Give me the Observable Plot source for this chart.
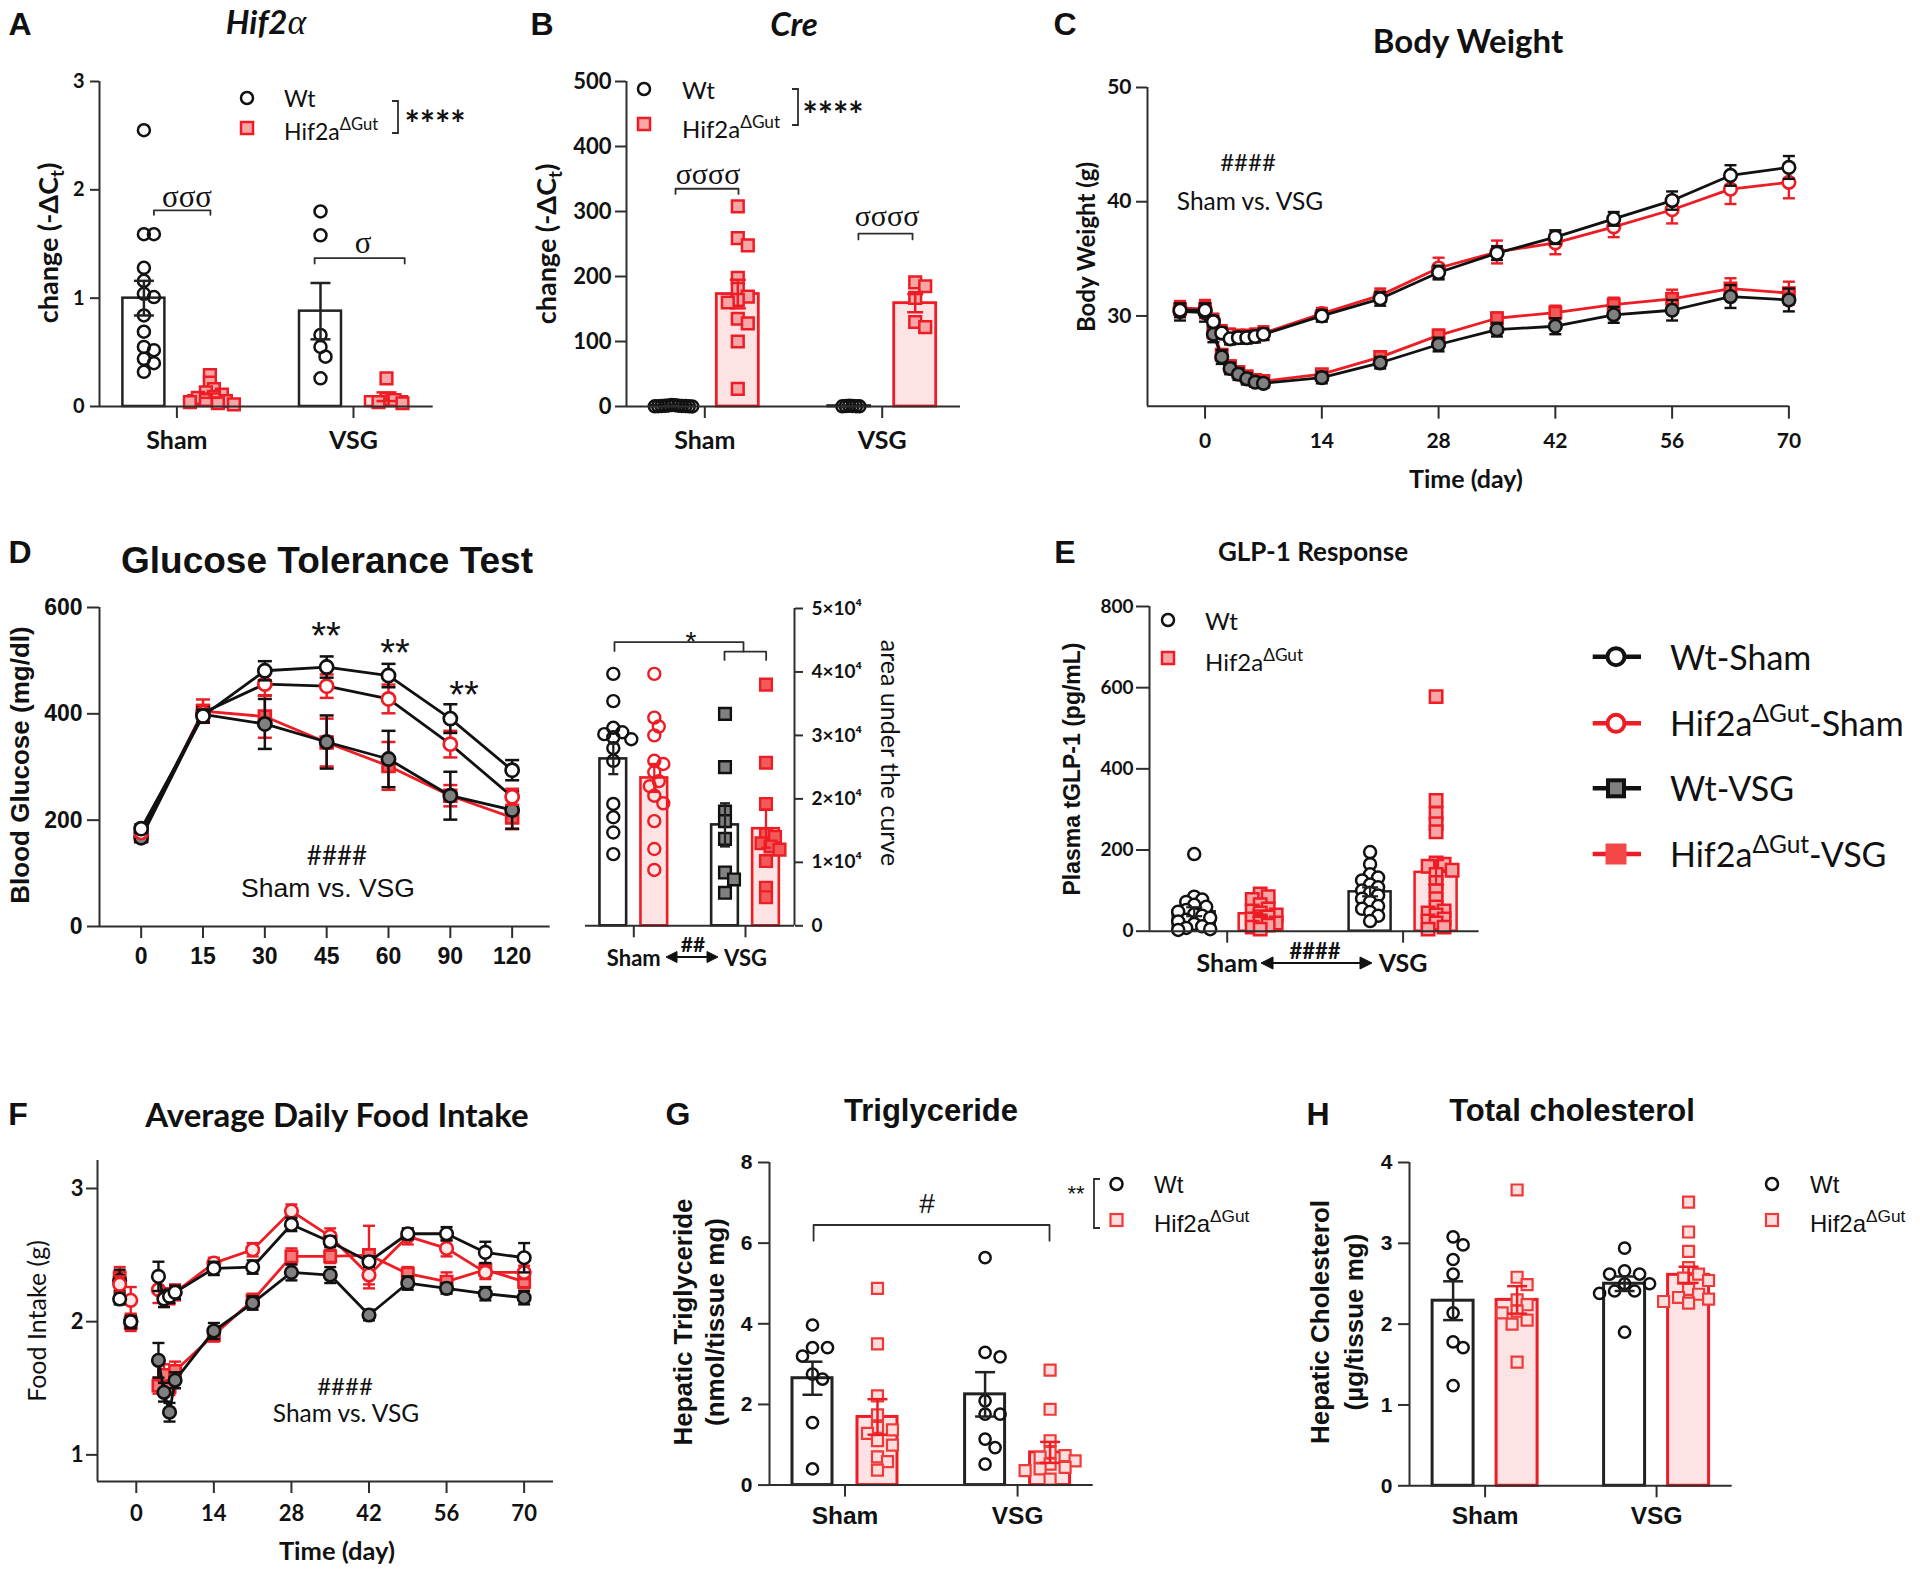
<!DOCTYPE html>
<html>
<head>
<meta charset="utf-8">
<title>Hif2a gut knockout – VSG figure</title>
<script src="https://cdn.jsdelivr.net/npm/d3@7"></script>
<script src="https://cdn.jsdelivr.net/npm/@observablehq/plot@0.6"></script>
<style>
  html, body { margin: 0; padding: 0; background: #fff; }
  #page { position: relative; width: 1920px; height: 1573px; overflow: hidden; background: #fff; color: #111; }
  .t { position: absolute; white-space: nowrap; line-height: 1; }
  .p { position: absolute; }
  .p svg { overflow: visible; }
  .t sup { font-size: 0.72em; vertical-align: 0; position: relative; top: -0.58em; }
  .t sub { font-size: 0.68em; vertical-align: 0; position: relative; top: 0.32em; }
</style>
</head>
<body>
<div id="page"></div>
<script>
// =================== DATA ===================
const GROUPS = ["Sham", "VSG"];
const LEGEND_SERIES = ["Wt-Sham", "Hif2a-Sham", "Wt-VSG", "Hif2a-VSG"];

// A – Hif2α mRNA (-ΔCt)
const A_wt_sham  = [2.55, 1.59, 1.59, 1.28, 1.16, 1.04, 1.01, 0.84, 0.69, 0.55, 0.52, 0.44, 0.40, 0.32];
const A_hif_sham = [0.29, 0.22, 0.16, 0.13, 0.11, 0.09, 0.08, 0.06, 0.05, 0.04, 0.03, 0.02];
const A_wt_vsg   = [1.80, 1.58, 0.66, 0.55, 0.46, 0.26];
const A_hif_vsg  = [0.26, 0.07, 0.06, 0.04, 0.03];
const A_mean_wt  = [1.00, 0.88];
const A_sem_wt   = [0.16, 0.26];
const A_mean_hif = [0.10, 0.09];
const A_sem_hif  = [0.02, 0.04];

// B – Cre mRNA (-ΔCt)
const B_wt_sham  = [2.5, 2.0, 1.6, 1.3, 1.1, 0.9, 0.8, 0.6, 0.5, 0.3, 0.2, 0.1];
const B_hif_sham = [308, 259, 248, 198, 181, 169, 164, 160, 135, 128, 100, 27];
const B_wt_vsg   = [1.2, 0.9, 0.7, 0.5, 0.3, 0.2];
const B_hif_vsg  = [191, 185, 167, 130, 122];
const B_mean_wt  = [1.0, 0.6];
const B_sem_wt   = [0.3, 0.2];
const B_mean_hif = [173, 159];
const B_sem_hif  = [22, 14];

// C – Body weight (g)
const C_days         = [-3, 0, 1, 2, 3, 4, 5, 6, 7, 14, 21, 28, 35, 42, 49, 56, 63, 70];
const C_wt_sham      = [30.5, 30.5, 29.5, 28.5, 28.0, 28.1, 28.1, 28.2, 28.4, 30.0, 31.5, 33.8, 35.5, 36.9, 38.5, 40.1, 42.3, 43.0];
const C_wt_sham_sem  = [0.6, 0.6, 0.5, 0.5, 0.5, 0.5, 0.5, 0.5, 0.5, 0.5, 0.6, 0.6, 0.6, 0.6, 0.6, 0.8, 0.9, 1.0];
const C_hif_sham     = [30.7, 30.6, 29.6, 28.6, 28.3, 28.2, 28.2, 28.3, 28.5, 30.2, 31.8, 34.2, 35.6, 36.4, 37.8, 39.3, 41.1, 41.7];
const C_hif_sham_sem = [0.6, 0.7, 0.6, 0.6, 0.6, 0.6, 0.6, 0.6, 0.6, 0.5, 0.6, 0.9, 1.0, 1.0, 0.9, 1.2, 1.3, 1.4];
const C_wt_vsg       = [30.4, 30.3, 28.4, 26.4, 25.4, 24.9, 24.5, 24.2, 24.1, 24.6, 25.9, 27.5, 28.8, 29.1, 30.1, 30.5, 31.7, 31.4];
const C_wt_vsg_sem   = [0.8, 0.8, 0.7, 0.6, 0.5, 0.5, 0.5, 0.4, 0.4, 0.5, 0.5, 0.6, 0.6, 0.7, 0.7, 0.9, 1.0, 1.0];
const C_hif_vsg      = [30.6, 30.6, 28.6, 26.6, 25.6, 25.1, 24.7, 24.4, 24.3, 24.9, 26.4, 28.3, 29.8, 30.3, 31.0, 31.5, 32.4, 32.0];
const C_hif_vsg_sem  = [0.7, 0.8, 0.6, 0.5, 0.5, 0.5, 0.5, 0.4, 0.4, 0.4, 0.5, 0.5, 0.5, 0.6, 0.6, 0.8, 0.9, 1.0];

// D – Glucose tolerance test (mg/dl)
const D_minutes      = [0, 15, 30, 45, 60, 90, 120];
const D_wt_sham      = [184, 396, 481, 488, 472, 391, 294];
const D_wt_sham_sem  = [8, 12, 18, 20, 22, 27, 19];
const D_hif_sham     = [177, 402, 456, 452, 428, 343, 244];
const D_hif_sham_sem = [8, 15, 22, 22, 27, 25, 15];
const D_wt_vsg       = [167, 399, 381, 347, 315, 246, 219];
const D_wt_vsg_sem   = [8, 15, 47, 50, 53, 45, 35];
const D_hif_vsg      = [170, 405, 395, 346, 302, 246, 205];
const D_hif_vsg_sem  = [8, 22, 40, 45, 45, 20, 22];
// D – area under the curve
const D_auc_wt_sham  = [39700, 35400, 31200, 30500, 30200, 29700, 29400, 28000, 26000, 19200, 17100, 14700, 11300];
const D_auc_hif_sham = [39700, 32800, 31400, 30000, 26000, 25500, 24200, 22800, 22000, 20500, 19300, 16500, 12100, 8800];
const D_auc_wt_vsg   = [33400, 25000, 18000, 16500, 13700, 8400, 7300, 5200];
const D_auc_hif_vsg  = [38000, 25700, 19200, 14400, 14000, 13000, 12500, 12000, 10200, 6000, 4500];
const D_auc_mean_wt  = [26300, 15900];
const D_auc_sem_wt   = [2400, 3400];
const D_auc_mean_hif = [23300, 15300];
const D_auc_sem_hif  = [2200, 3000];

// E – Plasma total GLP-1 (pg/mL)
const E_wt_sham  = [190, 85, 78, 72, 65, 60, 52, 48, 42, 38, 33, 28, 24, 18, 12, 8, 5, 3];
const E_hif_sham = [92, 85, 78, 65, 55, 50, 45, 40, 35, 30, 25, 20, 15, 10, 5];
const E_wt_vsg   = [195, 165, 140, 132, 125, 115, 108, 100, 95, 88, 80, 72, 62, 55, 47, 38, 25];
const E_hif_vsg  = [578, 322, 290, 265, 245, 168, 165, 160, 150, 140, 120, 100, 80, 60, 50, 45, 40, 30, 25, 20, 10, 5];
const E_mean_wt  = [48, 97];
const E_sem_wt   = [11, 11];
const E_mean_hif = [43, 145];
const E_sem_hif  = [8, 30];

// F – Average daily food intake (g)
const F_days         = [-3, -1, 4, 5, 6, 7, 14, 21, 28, 35, 42, 49, 56, 63, 70];
const F_wt_sham      = [2.17, 2.00, 2.34, 2.17, 2.19, 2.22, 2.40, 2.41, 2.73, 2.60, 2.45, 2.66, 2.66, 2.52, 2.48];
const F_wt_sham_sem  = [0.04, 0.04, 0.11, 0.06, 0.05, 0.05, 0.05, 0.05, 0.05, 0.04, 0.04, 0.04, 0.05, 0.08, 0.11];
const F_hif_sham     = [2.28, 2.16, 2.24, 2.18, 2.19, 2.22, 2.44, 2.54, 2.83, 2.64, 2.35, 2.64, 2.55, 2.37, 2.37];
const F_hif_sham_sem = [0.06, 0.10, 0.10, 0.07, 0.06, 0.06, 0.04, 0.05, 0.05, 0.06, 0.10, 0.06, 0.06, 0.05, 0.05];
const F_wt_vsg       = [2.31, 2.00, 1.71, 1.47, 1.32, 1.56, 1.93, 2.14, 2.37, 2.35, 2.05, 2.29, 2.25, 2.21, 2.18];
const F_wt_vsg_sem   = [0.08, 0.05, 0.13, 0.07, 0.07, 0.06, 0.06, 0.05, 0.06, 0.06, 0.04, 0.05, 0.04, 0.05, 0.05];
const F_hif_vsg      = [2.33, 1.99, 1.52, 1.60, 1.51, 1.63, 1.90, 2.16, 2.49, 2.49, 2.50, 2.36, 2.30, 2.39, 2.30];
const F_hif_vsg_sem  = [0.08, 0.06, 0.06, 0.08, 0.06, 0.07, 0.05, 0.05, 0.06, 0.05, 0.22, 0.05, 0.07, 0.05, 0.05];

// G – Hepatic triglyceride (nmol/tissue mg)
const G_wt_sham  = [3.97, 3.41, 3.41, 3.20, 2.75, 2.63, 1.55, 0.40];
const G_hif_sham = [4.88, 3.50, 2.21, 1.74, 1.43, 1.37, 1.28, 1.10, 0.99, 0.70, 0.58, 0.37];
const G_wt_vsg   = [5.64, 3.29, 3.18, 2.09, 1.76, 1.76, 1.14, 0.93, 0.52];
const G_hif_vsg  = [2.85, 1.88, 1.10, 0.81, 0.73, 0.69, 0.60, 0.52, 0.44, 0.40, 0.36, 0.15];
const G_mean_wt  = [2.65, 2.25];
const G_sem_wt   = [0.41, 0.55];
const G_mean_hif = [1.69, 0.81];
const G_sem_hif  = [0.44, 0.26];

// H – Hepatic cholesterol (µg/tissue mg)
const H_wt_sham  = [3.08, 2.98, 2.80, 2.62, 2.14, 1.78, 1.71, 1.24];
const H_hif_sham = [3.66, 2.58, 2.49, 2.30, 2.24, 2.16, 2.14, 2.05, 2.00, 1.53];
const H_wt_vsg   = [2.94, 2.66, 2.62, 2.62, 2.50, 2.50, 2.41, 2.41, 2.38, 1.90];
const H_hif_vsg  = [3.51, 3.14, 2.90, 2.70, 2.62, 2.57, 2.54, 2.43, 2.37, 2.33, 2.31, 2.28, 2.26];
const H_mean_wt  = [2.29, 2.50];
const H_sem_wt   = [0.24, 0.09];
const H_mean_hif = [2.30, 2.61];
const H_sem_hif  = [0.17, 0.10];

// significance brackets (x in group units: Sham = 0, VSG = 1; y in data units)
const A_brackets = [{x1: -0.13, x2: 0.19, y: 1.81, t1: 0.04, t2: 0.04}, {x1: 0.78, x2: 1.29, y: 1.37, t1: 0.05, t2: 0.05}];
const B_brackets = [{x1: -0.165, x2: 0.19, y: 335, t1: 8, t2: 8}, {x1: 0.866, x2: 1.171, y: 266, t1: 9, t2: 9}];
const AUC_brackets = [{x1: -0.173, x2: 0.982, y: 44700, t1: 1400, t2: 1500}, {x1: 0.812, x2: 1.185, y: 43200, t1: 1300, t2: 1300}];
const G_brackets = [{x1: -0.182, x2: 1.185, y: 6.45, t1: 0.39, t2: 0.39}];

// =================== DRAWING ===================
const page = document.getElementById("page");
const CAL = "Lato, 'Open Sans', 'DejaVu Sans', sans-serif";
const ARI = "'Liberation Sans', Arial, Helvetica, sans-serif";
const SER = "'Liberation Serif', 'DejaVu Serif', serif";
const INK = "#111111", AX = "#2e2e2e", RED = "#ee1c24", PINK = "#fde3e3", GRAY = "#808080";
const SQ = "#f6a6a6", SQL = "#fcdede", SQV = "#f25a5a";

function txt(html, x, y, o = {}) {
  const d = document.createElement("div");
  d.className = "t";
  d.innerHTML = html;
  const s = d.style;
  s.left = x + "px"; s.top = y + "px";
  s.fontSize = (o.size || 20) + "px";
  s.fontFamily = o.font || CAL;
  s.fontWeight = o.weight || "normal";
  if (o.italic) s.fontStyle = "italic";
  s.color = o.color || INK;
  const tx = o.align === "l" ? "0" : o.align === "r" ? "-100%" : "-50%";
  s.transform = `translate(${tx},-50%)` + (o.rot ? ` rotate(${o.rot}deg)` : "");
  page.appendChild(d);
  return d;
}
function place(node, left, top) {
  const d = document.createElement("div");
  d.className = "p";
  d.style.left = left + "px"; d.style.top = top + "px";
  d.appendChild(node);
  page.appendChild(d);
}
function capSym(w) { return {draw(ctx) { ctx.moveTo(-w, 0); ctx.lineTo(w, 0); }}; }
function swarm(vals, pyu, md, st) {
  const order = d3.range(vals.length).sort((a, b) => vals[b] - vals[a]);
  const placed = [], out = new Array(vals.length).fill(0);
  for (const i of order) {
    const y = vals[i] * pyu;
    for (let k = 0; k < 400; k++) {
      const x = Math.ceil(k / 2) * (k % 2 ? 1 : -1) * st;
      if (placed.every(p => (p.x - x) ** 2 + (p.y - y) ** 2 >= md * md)) { out[i] = x; placed.push({x, y}); break; }
    }
  }
  return out;
}
function bracketMark(list, stroke, sw) {
  const pts = [];
  list.forEach((b, i) => {
    pts.push({id: i, x: b.x1, y: b.y - b.t1}, {id: i, x: b.x1, y: b.y}, {id: i, x: b.x2, y: b.y}, {id: i, x: b.x2, y: b.y - b.t2});
  });
  return Plot.line(pts, {x: "x", y: "y", z: "id", stroke, strokeWidth: sw});
}

// ---------- bar + scatter panels ----------
function barPanel(c) {
  const [fx0, fx1, fy0, fy1] = c.frame;
  const M = {l: 90, r: 40, t: 20, b: 70};
  const ppu = c.centers[1] - c.centers[0];
  const xd = [(fx0 - c.centers[0]) / ppu, 1 + (fx1 - c.centers[1]) / ppu];
  const [ymin, ymax] = c.yDomain;
  const pyu = (fy1 - fy0) / (ymax - ymin);
  const so = c.sub / ppu, hw = c.barW / 2 / ppu;
  const marks = [];
  const summary = [];
  c.series.forEach((s, si) => {
    const side = si === 0 ? -1 : 1;
    GROUPS.forEach((g, gi) => {
      const cx = gi + side * so, m = s.mean[gi], e = s.sem[gi];
      summary.push({si, gi, cx, x1: cx - hw, x2: cx + hw, base: ymin, m, lo: m - e, hi: m + e});
    });
  });
  c.series.forEach((s, si) => {
    marks.push(Plot.rect(summary.filter(d => d.si === si), {x1: "x1", x2: "x2", y1: "base", y2: "m", fill: s.barFill, stroke: s.barStroke, strokeWidth: c.barSW}));
  });
  c.series.forEach((s, si) => {
    const side = si === 0 ? -1 : 1;
    GROUPS.forEach((g, gi) => {
      const st = Array.isArray(s.pt) ? s.pt[gi] : s.pt;
      const vals = s.points[gi];
      const offs = swarm(vals, pyu, st.md, st.st);
      const pts = vals.map((v, i) => ({x: gi + side * so + offs[i] / ppu, y: v}));
      marks.push(Plot.dot(pts, {x: "x", y: "y", r: st.r, symbol: st.symbol, fill: st.fill, stroke: st.stroke, strokeWidth: st.sw}));
    });
  });
  c.series.forEach((s, si) => {
    const d = summary.filter(r => r.si === si);
    marks.push(Plot.ruleX(d, {x: "cx", y1: "lo", y2: "hi", stroke: s.err, strokeWidth: c.errSW}));
    marks.push(Plot.dot(d, {x: "cx", y: "hi", r: 3, symbol: capSym(c.capW), stroke: s.err, strokeWidth: c.errSW}));
    marks.push(Plot.dot(d, {x: "cx", y: "lo", r: 3, symbol: capSym(c.capW), stroke: s.err, strokeWidth: c.errSW}));
  });
  if (c.brackets) marks.push(bracketMark(c.brackets, AX, 1.8));
  const yAt = c.yRight ? xd[1] : xd[0];
  marks.push(Plot.ruleX([{x: yAt, y1: ymin, y2: ymax}], {x: "x", y1: "y1", y2: "y2", stroke: AX, strokeWidth: 2}));
  marks.push(Plot.ruleY([{y: ymin, x1: xd[0], x2: xd[1]}], {y: "y", x1: "x1", x2: "x2", stroke: AX, strokeWidth: 2}));
  marks.push(Plot.axisY({anchor: c.yRight ? "right" : "left", ticks: c.yTicks, tickFormat: c.yFmt || (d => String(d)),
    tickSize: c.yts, tickPadding: c.ytp, fontSize: c.yfs, fontWeight: "bold", fontFamily: c.font, stroke: AX, strokeWidth: 2, fill: INK, label: null}));
  marks.push(Plot.axisX({ticks: [0, 1], tickFormat: i => GROUPS[i], tickSize: 12, tickPadding: c.xtp, fontSize: c.xfs,
    fontWeight: "bold", fontFamily: c.font, stroke: AX, strokeWidth: 2, fill: INK, label: null}));
  const W = fx1 - fx0 + M.l + M.r, H = fy1 - fy0 + M.t + M.b;
  const svg = Plot.plot({width: W, height: H, marginLeft: M.l, marginRight: M.r, marginTop: M.t, marginBottom: M.b,
    x: {domain: xd}, y: {domain: [ymin, ymax]},
    style: {fontFamily: c.font, color: INK, background: "none", overflow: "visible"}, marks});
  place(svg, fx0 - M.l, fy0 - M.t);
}

// ---------- time-course panels ----------
function linePanel(c) {
  const [fx0, fx1, fy0, fy1] = c.frame;
  const M = {l: 90, r: 40, t: 20, b: 70};
  const [ymin, ymax] = c.yDomain;
  const marks = [];
  c.series.forEach(s => {
    const rows = c.xs.map((x, i) => ({x, m: s.mean[i], lo: s.mean[i] - s.sem[i], hi: s.mean[i] + s.sem[i]}));
    const lr = c.lineFilter ? rows.filter(c.lineFilter) : rows;
    marks.push(Plot.line(lr, {x: "x", y: "m", stroke: s.line, strokeWidth: c.lineW}));
    marks.push(Plot.ruleX(rows, {x: "x", y1: "lo", y2: "hi", stroke: s.err, strokeWidth: c.errW}));
    marks.push(Plot.dot(rows, {x: "x", y: "hi", r: 3, symbol: capSym(c.capW), stroke: s.err, strokeWidth: c.errW}));
    marks.push(Plot.dot(rows, {x: "x", y: "lo", r: 3, symbol: capSym(c.capW), stroke: s.err, strokeWidth: c.errW}));
    marks.push(Plot.dot(rows, {x: "x", y: "m", r: s.r, symbol: s.symbol, fill: s.fill, stroke: s.stroke, strokeWidth: c.mkW}));
  });
  const xd = c.xDomain;
  marks.push(Plot.ruleX([{x: xd[0], y1: ymin, y2: ymax}], {x: "x", y1: "y1", y2: "y2", stroke: AX, strokeWidth: 2}));
  marks.push(Plot.ruleY([{y: ymin, x1: xd[0], x2: xd[1]}], {y: "y", x1: "x1", x2: "x2", stroke: AX, strokeWidth: 2}));
  marks.push(Plot.axisY({ticks: c.yTicks, tickFormat: d => String(d), tickSize: c.yts, tickPadding: c.ytp, fontSize: c.yfs,
    fontWeight: "bold", fontFamily: c.font, stroke: AX, strokeWidth: 2, fill: INK, label: null}));
  marks.push(Plot.axisX({ticks: c.xTicks, tickFormat: c.xFmt || (d => String(d)), tickSize: c.xts, tickPadding: c.xtp, fontSize: c.xfs,
    fontWeight: "bold", fontFamily: c.font, stroke: AX, strokeWidth: 2, fill: INK, label: null}));
  const W = fx1 - fx0 + M.l + M.r, H = fy1 - fy0 + M.t + M.b;
  const svg = Plot.plot({width: W, height: H, marginLeft: M.l, marginRight: M.r, marginTop: M.t, marginBottom: M.b,
    x: {domain: xd}, y: {domain: [ymin, ymax]},
    style: {fontFamily: c.font, color: INK, background: "none", overflow: "visible"}, marks});
  place(svg, fx0 - M.l, fy0 - M.t);
}

// series styles
const wtBar = {barFill: "white", barStroke: "#222", err: "#222"};
const hifBar = {barFill: PINK, barStroke: RED, err: RED};
const ST = {
  "Wt-Sham":    {line: INK, err: INK, symbol: "circle", fill: "white", stroke: INK, r: 6.3},
  "Hif2a-Sham": {line: RED, err: RED, symbol: "circle", fill: "white", stroke: RED, r: 6.3},
  "Wt-VSG":     {line: INK, err: INK, symbol: "circle", fill: GRAY, stroke: INK, r: 6.3},
  "Hif2a-VSG":  {line: RED, err: RED, symbol: "square", fill: SQV, stroke: RED, r: 6.4}
};

// ---- A ----
barPanel({frame: [99.3, 433, 81, 406], centers: [176.7, 353.3], sub: 33, barW: 42, yDomain: [0, 3], yTicks: [0, 1, 2, 3],
  font: CAL, yts: 9, ytp: 6, yfs: 20, xtp: 13.1, xfs: 25, barSW: 2.5, errSW: 2.5, capW: 10, brackets: A_brackets,
  series: [
    {...wtBar, mean: A_mean_wt, sem: A_sem_wt, points: [A_wt_sham, A_wt_vsg], pt: {symbol: "circle", fill: "none", stroke: INK, r: 6, sw: 2.5, md: 10, st: 5}},
    {...hifBar, mean: A_mean_hif, sem: A_sem_hif, points: [A_hif_sham, A_hif_vsg], pt: {symbol: "square", fill: SQ, stroke: RED, r: 6.6, sw: 2.5, md: 7, st: 4}}
  ]});
// ---- B ----
barPanel({frame: [626, 960, 81, 406], centers: [704.3, 881.7], sub: 33, barW: 42, yDomain: [0, 500], yTicks: [0, 100, 200, 300, 400, 500],
  font: CAL, yts: 11, ytp: 4, yfs: 22, xtp: 13.1, xfs: 25, barSW: 2.8, errSW: 2.5, capW: 8, brackets: B_brackets,
  series: [
    {...wtBar, mean: B_mean_wt, sem: B_sem_wt, points: [B_wt_sham, B_wt_vsg], pt: {symbol: "circle", fill: "none", stroke: INK, r: 6, sw: 2.5, md: 3.4, st: 3.4}},
    {...hifBar, mean: B_mean_hif, sem: B_sem_hif, points: [B_hif_sham, B_hif_vsg], pt: {symbol: "square", fill: SQ, stroke: RED, r: 6.6, sw: 2.5, md: 10, st: 5}}
  ]});
// ---- C ----
linePanel({frame: [1146.6, 1788, 87.3, 406], xDomain: [-6.9, 70], yDomain: [22.1, 50], xs: C_days,
  xTicks: [0, 14, 28, 42, 56, 70], yTicks: [30, 40, 50], font: CAL, yts: 11, ytp: 5, yfs: 21, xts: 13, xtp: 13.5, xfs: 21,
  lineW: 2.8, errW: 2.4, capW: 6, mkW: 2.6,
  series: [
    {...ST["Hif2a-VSG"], mean: C_hif_vsg, sem: C_hif_vsg_sem},
    {...ST["Wt-VSG"], mean: C_wt_vsg, sem: C_wt_vsg_sem},
    {...ST["Hif2a-Sham"], mean: C_hif_sham, sem: C_hif_sham_sem},
    {...ST["Wt-Sham"], mean: C_wt_sham, sem: C_wt_sham_sem}
  ]});
// ---- D (GTT) ----
linePanel({frame: [99.3, 550, 606.7, 925.7], xDomain: [-0.674, 6.615], yDomain: [0, 600], xs: D_minutes.map((m, i) => i),
  xTicks: d3.range(D_minutes.length), xFmt: i => String(D_minutes[i]), yTicks: [0, 200, 400, 600], font: ARI,
  yts: 12, ytp: 5, yfs: 23, xts: 12, xtp: 9.1, xfs: 23, lineW: 2.8, errW: 2.5, capW: 7, mkW: 2.7,
  series: [
    {...ST["Hif2a-VSG"], mean: D_hif_vsg, sem: D_hif_vsg_sem, r: 6.7},
    {...ST["Wt-VSG"], mean: D_wt_vsg, sem: D_wt_vsg_sem, r: 6.6},
    {...ST["Hif2a-Sham"], line: INK, mean: D_hif_sham, sem: D_hif_sham_sem, r: 6.6},
    {...ST["Wt-Sham"], mean: D_wt_sham, sem: D_wt_sham_sem, r: 6.6}
  ]});
// ---- D (AUC) ----
barPanel({frame: [585, 794, 607.7, 925], centers: [633.3, 745], sub: 20.5, barW: 26.7, yDomain: [0, 50000],
  yTicks: [0, 10000, 20000, 30000, 40000, 50000], yFmt: v => v === 0 ? "0" : `${v / 1e4}×10⁴`, yRight: true,
  font: CAL, yts: 8, ytp: 9, yfs: 19, xtp: 12.2, xfs: 22, barSW: 2.6, errSW: 2.3, capW: 5, brackets: AUC_brackets,
  series: [
    {...wtBar, mean: D_auc_mean_wt, sem: D_auc_sem_wt, points: [D_auc_wt_sham, D_auc_wt_vsg],
      pt: [{symbol: "circle", fill: "none", stroke: INK, r: 6, sw: 2.4, md: 9, st: 4.5}, {symbol: "square", fill: GRAY, stroke: INK, r: 6.6, sw: 2.4, md: 9, st: 4.5}]},
    {...hifBar, mean: D_auc_mean_hif, sem: D_auc_sem_hif, points: [D_auc_hif_sham, D_auc_hif_vsg],
      pt: [{symbol: "circle", fill: "none", stroke: RED, r: 6, sw: 2.4, md: 9, st: 4.5}, {symbol: "square", fill: SQV, stroke: RED, r: 6.6, sw: 2.4, md: 9, st: 4.5}]}
  ]});
// ---- E ----
barPanel({frame: [1148.8, 1478.4, 606, 930.7], centers: [1226.5, 1402.4], sub: 33, barW: 42, yDomain: [0, 800], yTicks: [0, 200, 400, 600, 800],
  font: CAL, yts: 13, ytp: 3, yfs: 19, xtp: 11.4, xfs: 25, barSW: 2.5, errSW: 2.2, capW: 8,
  series: [
    {...wtBar, mean: E_mean_wt, sem: E_sem_wt, points: [E_wt_sham, E_wt_vsg], pt: {symbol: "circle", fill: "white", stroke: INK, r: 6, sw: 2.5, md: 8, st: 4}},
    {...hifBar, mean: E_mean_hif, sem: E_sem_hif, points: [E_hif_sham, E_hif_vsg], pt: {symbol: "square", fill: SQ, stroke: RED, r: 7, sw: 2.5, md: 8, st: 4}}
  ]});
// ---- F ----
linePanel({frame: [97, 553, 1160, 1481], xDomain: [-7.0, 75.3], yDomain: [0.8, 3.21], xs: F_days, lineFilter: d => d.x > 0,
  xTicks: [0, 14, 28, 42, 56, 70], yTicks: [1, 2, 3], font: CAL, yts: 11, ytp: 3, yfs: 22, xts: 12, xtp: 12.2, xfs: 22,
  lineW: 2.8, errW: 2.4, capW: 6, mkW: 2.6,
  series: [
    {...ST["Hif2a-VSG"], mean: F_hif_vsg, sem: F_hif_vsg_sem, fill: "#f47a7a"},
    {...ST["Wt-VSG"], mean: F_wt_vsg, sem: F_wt_vsg_sem},
    {...ST["Hif2a-Sham"], mean: F_hif_sham, sem: F_hif_sham_sem, fill: "#fde8e8"},
    {...ST["Wt-Sham"], mean: F_wt_sham, sem: F_wt_sham_sem}
  ]});
// ---- G ----
barPanel({frame: [769.2, 1092.9, 1161.7, 1484.3], centers: [844.7, 1017.3], sub: 32.5, barW: 40, yDomain: [0, 8], yTicks: [0, 2, 4, 6, 8],
  font: ARI, yts: 11, ytp: 6, yfs: 21, xtp: 10, xfs: 24.5, barSW: 3, errSW: 2.5, capW: 10, brackets: G_brackets,
  series: [
    {...wtBar, mean: G_mean_wt, sem: G_sem_wt, points: [G_wt_sham, G_wt_vsg], pt: {symbol: "circle", fill: "none", stroke: INK, r: 5.6, sw: 2.5, md: 11, st: 5}},
    {...hifBar, mean: G_mean_hif, sem: G_sem_hif, points: [G_hif_sham, G_hif_vsg], pt: {symbol: "square", fill: SQL, stroke: "#f03a3a", r: 6.2, sw: 2.2, md: 11, st: 5}}
  ]});
// ---- H ----
barPanel({frame: [1409.3, 1732, 1161.7, 1485], centers: [1484.9, 1656.4], sub: 32, barW: 41, yDomain: [0, 4], yTicks: [0, 1, 2, 3, 4],
  font: ARI, yts: 11, ytp: 6, yfs: 21, xtp: 9.3, xfs: 24.5, barSW: 3, errSW: 2.5, capW: 10,
  series: [
    {...wtBar, mean: H_mean_wt, sem: H_sem_wt, points: [H_wt_sham, H_wt_vsg], pt: {symbol: "circle", fill: "none", stroke: INK, r: 5.6, sw: 2.5, md: 11, st: 5}},
    {...hifBar, mean: H_mean_hif, sem: H_sem_hif, points: [H_hif_sham, H_hif_vsg], pt: {symbol: "square", fill: SQL, stroke: "#f03a3a", r: 6.2, sw: 2.2, md: 11, st: 5}}
  ]});

// =================== TEXT ===================
// panel letters
[["A", 20, 24], ["B", 542, 24], ["C", 1065, 24], ["D", 20, 552], ["E", 1065, 552], ["F", 18, 1114], ["G", 678, 1114], ["H", 1318, 1114]]
  .forEach(([l, x, y]) => txt(l, x, y, {size: 32, weight: "bold", font: ARI}));
// titles
txt(`<b><i>Hif2</i></b><i style="font-family:${SER};font-size:1.08em">α</i>`, 266, 23, {size: 33, font: CAL});
txt("Cre", 794, 23, {size: 33, font: CAL, weight: "bold", italic: true});
txt("Body Weight", 1468, 40, {size: 33, font: CAL, weight: "bold"});
txt("Glucose Tolerance Test", 327, 560, {size: 37, font: ARI, weight: "bold"});
txt("GLP-1 Response", 1313, 551, {size: 26, font: CAL, weight: "bold"});
txt("Average Daily Food Intake", 337, 1114, {size: 33, font: CAL, weight: "bold"});
txt("Triglyceride", 931, 1110, {size: 31, font: ARI, weight: "bold"});
txt("Total cholesterol", 1572, 1110, {size: 31, font: ARI, weight: "bold"});
// axis titles
txt("change (-ΔC<sub>t</sub>)", 47, 243, {size: 27, weight: "bold", rot: -90});
txt("change (-ΔC<sub>t</sub>)", 545, 244, {size: 27, weight: "bold", rot: -90});
txt("Body Weight (g)", 1086, 247, {size: 24, weight: "bold", rot: -90});
txt("Time (day)", 1466, 478, {size: 25, weight: "bold"});
txt("Blood Glucose (mg/dl)", 20, 765, {size: 26, weight: "bold", font: ARI, rot: -90});
txt("area under the curve", 890, 753, {size: 25, rot: 90});
txt("Plasma tGLP-1 (pg/mL)", 1072, 769, {size: 23, weight: "bold", font: ARI, rot: -90});
txt("Food Intake (g)", 36, 1321, {size: 25, rot: -90});
txt("Time (day)", 337, 1551, {size: 25.5, weight: "bold"});
txt("Hepatic Triglyceride", 683, 1322, {size: 26, weight: "bold", font: ARI, rot: -90});
txt("(nmol/tissue mg)", 715, 1322, {size: 26, weight: "bold", font: ARI, rot: -90});
txt("Hepatic Cholesterol", 1320, 1322, {size: 26, weight: "bold", font: ARI, rot: -90});
txt("(µg/tissue mg)", 1354, 1322, {size: 26, weight: "bold", font: ARI, rot: -90});
// statistics annotations
txt("σσσ", 187, 196, {size: 31, font: SER});
txt("σ", 363, 242, {size: 31, font: SER});
txt("σσσσ", 708, 174, {size: 30, font: SER});
txt("σσσσ", 887, 216, {size: 30, font: SER});
txt("****", 435, 123, {size: 36, weight: "bold"});
txt("****", 833, 114, {size: 36, weight: "bold"});
txt("####", 1248, 162, {size: 24});
txt("Sham vs. VSG", 1250, 201, {size: 24.5});
txt("**", 326, 636, {size: 38, font: ARI});
txt("**", 395, 653, {size: 38, font: ARI});
txt("**", 464, 695, {size: 38, font: ARI});
txt("####", 337, 855, {size: 26});
txt("Sham vs. VSG", 328, 888, {size: 26.5, font: ARI});
txt("*", 691, 642, {size: 28, font: ARI});
txt("##", 693, 943, {size: 21, weight: "bold"});
txt("####", 1315, 951, {size: 22, weight: "bold"});
txt("####", 345, 1386, {size: 24});
txt("Sham vs. VSG", 346, 1413, {size: 24.5});
txt("#", 927, 1204, {size: 28, font: ARI});
txt("**", 1076, 1194, {size: 22, font: ARI});
// small legends
const HIF = "Hif2a<sup>ΔGut</sup>";
txt("Wt", 284, 98, {size: 23, align: "l"}); txt(HIF, 284, 131, {size: 23, align: "l"});
txt("Wt", 682, 90, {size: 24, align: "l"}); txt(HIF, 682, 129, {size: 24, align: "l"});
txt("Wt", 1205, 621, {size: 24, align: "l"}); txt(HIF, 1205, 662, {size: 24, align: "l"});
txt("Wt", 1154, 1185, {size: 24, font: ARI, align: "l"}); txt(HIF, 1154, 1224, {size: 24, font: ARI, align: "l"});
txt("Wt", 1810, 1185, {size: 24, font: ARI, align: "l"}); txt(HIF, 1810, 1224, {size: 24, font: ARI, align: "l"});

// =================== OVERLAY (legend keys, arrows) ===================
let ov = "";
const circ = (cx, cy, r, fill, stroke, sw) => `<circle cx="${cx}" cy="${cy}" r="${r}" fill="${fill}" stroke="${stroke}" stroke-width="${sw}"/>`;
const sq = (cx, cy, s, fill, stroke, sw) => `<rect x="${cx - s / 2}" y="${cy - s / 2}" width="${s}" height="${s}" fill="${fill}" stroke="${stroke}" stroke-width="${sw}"/>`;
const path = (d, stroke, sw, fill = "none") => `<path d="${d}" fill="${fill}" stroke="${stroke}" stroke-width="${sw}"/>`;
ov += circ(247, 98, 6, "none", INK, 2.5) + sq(247, 128, 12, SQ, RED, 2.5) + path("M392 101H398V133H392", AX, 1.8);
ov += circ(644, 89, 6, "none", INK, 2.5) + sq(644, 124, 12, SQ, RED, 2.5) + path("M792 89H798V125H792", AX, 1.8);
ov += circ(1168, 620, 6, "none", INK, 2.5) + sq(1168, 658, 12, SQ, RED, 2.5);
ov += circ(1116.5, 1184, 6, "none", INK, 2.5) + sq(1116.5, 1220, 12, SQL, "#f03a3a", 2.2) + path("M1100 1179H1094V1228H1100", AX, 1.8);
ov += circ(1772, 1184, 6, "none", INK, 2.5) + sq(1772, 1220, 12, SQL, "#f03a3a", 2.2);
// arrows
ov += path("M672 957H712", INK, 2) + path("M666 957L677 951.5L677 962.5Z", INK, 1, INK) + path("M718 957L707 951.5L707 962.5Z", INK, 1, INK);
ov += path("M1268 963H1365", INK, 2) + path("M1261 963L1273 957L1273 969Z", INK, 1, INK) + path("M1372 963L1360 957L1360 969Z", INK, 1, INK);
// big legend
const LEG_KEY = {
  "Wt-Sham":    {c: INK, key: (x, y) => circ(x, y, 8.5, "white", INK, 4)},
  "Hif2a-Sham": {c: RED, key: (x, y) => circ(x, y, 8.5, "white", RED, 4)},
  "Wt-VSG":     {c: INK, key: (x, y) => sq(x, y, 16, GRAY, INK, 4)},
  "Hif2a-VSG":  {c: RED, key: (x, y) => sq(x, y, 17, "#f44848", "#f44848", 4)}
};
const LEG_LABEL = {"Wt-Sham": "Wt-Sham", "Hif2a-Sham": HIF + "-Sham", "Wt-VSG": "Wt-VSG", "Hif2a-VSG": HIF + "-VSG"};
const legY = [656.7, 723.3, 788.3, 854];
LEGEND_SERIES.forEach((k, i) => {
  const y = legY[i];
  ov += path(`M1592.7 ${y}H1641`, LEG_KEY[k].c, 4.5) + LEG_KEY[k].key(1616, y);
  txt(LEG_LABEL[k], 1670, y, {size: 34, align: "l"});
});
const ovDiv = document.createElement("div");
ovDiv.className = "p"; ovDiv.style.left = "0px"; ovDiv.style.top = "0px";
ovDiv.innerHTML = `<svg width="1920" height="1573" viewBox="0 0 1920 1573">${ov}</svg>`;
page.appendChild(ovDiv);
</script>
</body>
</html>
